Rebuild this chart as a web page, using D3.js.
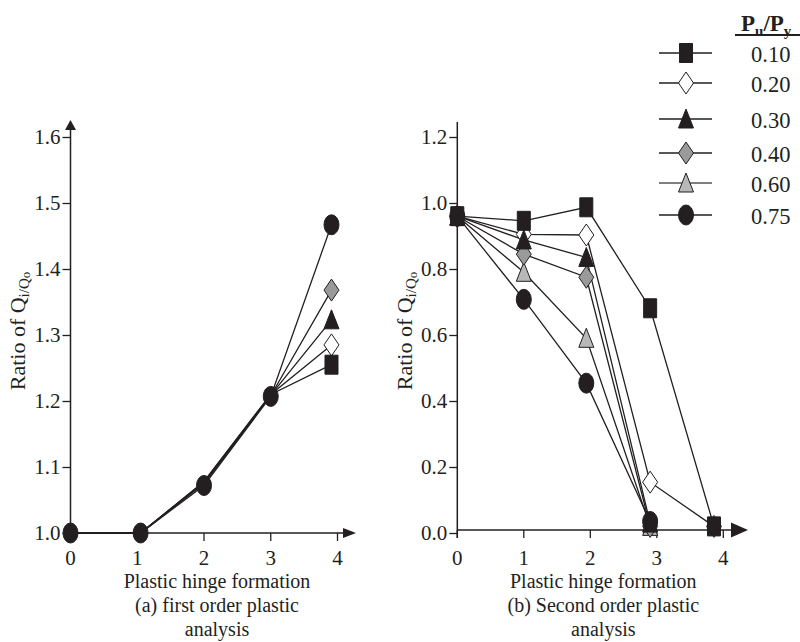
<!DOCTYPE html>
<html>
<head>
<meta charset="utf-8">
<script src="https://cdn.jsdelivr.net/npm/d3@7"></script>
<style>
  html, body { margin: 0; padding: 0; background: #fff; }
  svg { display: block; }
  text { font-family: "Liberation Serif", "Times New Roman", Times, serif; fill: #231f20; }
</style>
</head>
<body>
<svg id="chart" width="800" height="642"></svg>
<script>
// ---------- data ----------
const seriesNames = ["0.10", "0.20", "0.30", "0.40", "0.60", "0.75"];
const seriesMarkers = ["square", "diamondOpen", "triangle", "diamondGray", "triangleGray", "circle"];

// (a) first order plastic analysis
const leftX = [0, 1.05, 2, 3, 3.91];
const left010 = [1.0, 1.0, 1.078, 1.21, 1.255];
const left020 = [1.0, 1.0, 1.077, 1.21, 1.285];
const left030 = [1.0, 1.0, 1.076, 1.209, 1.323];
const left040 = [1.0, 1.0, 1.075, 1.208, 1.368];
const left075 = [1.0, 1.0, 1.072, 1.207, 1.467];
const leftTicks = [1.0, 1.1, 1.2, 1.3, 1.4, 1.5, 1.6];

// (b) second order plastic analysis
const rightX = [0, 1.0, 1.94, 2.9, 3.86];
const right010 = [0.96, 0.946, 0.987, 0.681, 0.02];
const right020 = [0.96, 0.905, 0.903, 0.154, 0.02];
const right030 = [0.96, 0.888, 0.835, 0.03, null];
const right040 = [0.96, 0.845, 0.775, 0.02, null];
const right060 = [0.96, 0.79, 0.59, 0.02, null];
const right075 = [0.96, 0.708, 0.454, 0.035, null];
const rightTicks = [0.0, 0.2, 0.4, 0.6, 0.8, 1.0, 1.2];

const xTicks = [0, 1, 2, 3, 4];

// ---------- drawing ----------
const svg = d3.select("#chart");
const INK = "#231f20";
const FONT = 21;

function markerPath(type) {
  switch (type) {
    case "square": return "M-6.5,-9.5h13v19h-13Z";
    case "diamondOpen":
    case "diamondGray": return "M0,-11L7.5,0L0,11L-7.5,0Z";
    case "triangle":
    case "triangleGray": return "M0,-10L7.5,9L-7.5,9Z";
    case "circle": return "M-7.5,0A7.5,10 0 1,0 7.5,0A7.5,10 0 1,0 -7.5,0Z";
  }
}
function markerFill(type) {
  return { square: INK, diamondOpen: "#ffffff", triangle: INK,
           diamondGray: "#9a9a9a", triangleGray: "#b8b8b8", circle: INK }[type];
}
function drawMarker(g, type, x, y) {
  g.append("path")
    .attr("d", markerPath(type))
    .attr("transform", `translate(${x},${y})`)
    .attr("fill", markerFill(type))
    .attr("stroke", INK)
    .attr("stroke-width", 1);
}

function drawPanel(opts) {
  const { xRange, yDomain, yRange, yTicks, series, order, caption, yArrow, xArrowLen, xArrowH, axisYOffset, hideUnder } = opts;
  const x = d3.scaleLinear().domain([0, 4]).range(xRange);
  const y = d3.scaleLinear().domain(yDomain).range(yRange);
  const g = svg.append("g");
  const axisY = y(yDomain[0]) - axisYOffset;

  // y axis
  const yAxis = d3.axisLeft(y).tickValues(yTicks).tickSize(8).tickPadding(2).tickFormat(d3.format(".1f"));
  const ya = g.append("g").attr("transform", `translate(${xRange[0]},0)`).call(yAxis);
  ya.attr("font-family", null);
  ya.select(".domain").remove();
  ya.selectAll(".tick line").attr("stroke", INK).attr("stroke-width", 1.3);
  ya.selectAll(".tick text").style("font-size", FONT + "px").attr("fill", INK);
  g.append("line").attr("x1", xRange[0]).attr("x2", xRange[0])
    .attr("y1", axisY + 8).attr("y2", yArrow ? yArrow.tip + 6 : opts.yTop)
    .attr("stroke", INK).attr("stroke-width", 1.5);
  if (yArrow) {
    g.append("path")
      .attr("d", `M${xRange[0]},${yArrow.tip}L${xRange[0] + 5.5},${yArrow.tip + 10}L${xRange[0] - 5.5},${yArrow.tip + 10}Z`)
      .attr("fill", INK);
  }

  // x axis
  const xEnd = opts.xTip;
  g.append("line").attr("x1", xRange[0]).attr("x2", xEnd - 4)
    .attr("y1", axisY).attr("y2", axisY).attr("stroke", INK).attr("stroke-width", 1.5);
  g.append("path")
    .attr("d", `M${xEnd},${axisY}L${xEnd - xArrowLen},${axisY - xArrowH / 2}L${xEnd - xArrowLen},${axisY + xArrowH / 2}Z`)
    .attr("fill", INK);
  xTicks.forEach(t => {
    g.append("line").attr("x1", x(t)).attr("x2", x(t)).attr("y1", axisY).attr("y2", axisY + 8)
      .attr("stroke", INK).attr("stroke-width", 1.3);
    g.append("text").attr("x", x(t)).attr("y", 565).attr("text-anchor", "middle")
      .style("font-size", FONT + "px").text(t);
  });

  // y label
  const yl = g.append("text")
    .attr("transform", `translate(${xRange[0] - 45.5},331) rotate(-90)`)
    .attr("text-anchor", "middle").style("font-size", "22px");
  yl.append("tspan").text("Ratio of Q");
  yl.append("tspan").attr("dy", 4).style("font-size", "15px").text("i/Q");
  yl.append("tspan").attr("dy", 1).style("font-size", "13px").text("o");

  // x label + caption
  const cx = (xRange[0] + xRange[1]) / 2 + 13;
  caption.forEach((line, i) => {
    g.append("text").attr("x", cx).attr("y", [588, 612, 636][i])
      .attr("text-anchor", "middle").style("font-size", "20px").text(line);
  });

  // lines
  const line = d3.line().defined(d => d[1] !== null).x(d => x(d[0])).y(d => y(d[1]));
  order.forEach(k => {
    const s = series[k];
    if (!s) return;
    g.append("path").datum(s.xs.map((v, i) => [v, s.ys[i]]))
      .attr("d", line).attr("fill", "none").attr("stroke", INK).attr("stroke-width", 1.3);
  });
  // markers (markers lying under the top series' marker are covered in the original)
  const top = hideUnder !== undefined ? series[hideUnder] : null;
  order.forEach(k => {
    const s = series[k];
    if (!s) return;
    s.xs.forEach((v, i) => {
      if (s.ys[i] === null) return;
      if (top && k !== hideUnder && Math.abs(y(s.ys[i]) - y(top.ys[i])) < 6) return;
      drawMarker(g, seriesMarkers[k], x(v), y(s.ys[i]));
    });
  });
}

drawPanel({
  xRange: [70.5, 337.5], yDomain: [1.0, 1.6], yRange: [533, 137], yTicks: leftTicks,
  series: {
    0: { xs: leftX, ys: left010 }, 1: { xs: leftX, ys: left020 }, 2: { xs: leftX, ys: left030 },
    3: { xs: leftX, ys: left040 }, 5: { xs: leftX, ys: left075 }
  },
  order: [1, 0, 2, 3, 5], hideUnder: 5,
  caption: ["Plastic hinge formation", "(a) first order plastic", "analysis"],
  yArrow: { tip: 120 }, xTip: 356, xArrowLen: 13, xArrowH: 10, axisYOffset: 0
});

drawPanel({
  xRange: [457.3, 723.3], yDomain: [0, 1.2], yRange: [533, 137], yTicks: rightTicks,
  series: {
    0: { xs: rightX, ys: right010 }, 1: { xs: rightX, ys: right020 }, 2: { xs: rightX, ys: right030 },
    3: { xs: rightX, ys: right040 }, 4: { xs: rightX, ys: right060 }, 5: { xs: rightX, ys: right075 }
  },
  order: [1, 4, 3, 5, 2, 0],
  caption: ["Plastic hinge formation", "(b) Second order plastic", "analysis"],
  yArrow: null, yTop: 122, xTip: 748, xArrowLen: 17, xArrowH: 15, axisYOffset: 3
});

// ---------- legend ----------
const legendY = [53, 83, 119, 153, 183, 215];
const lg = svg.append("g");
const head = lg.append("text").attr("x", 741).attr("y", 31)
  .style("font-size", "23px").style("font-weight", "bold");
head.append("tspan").text("P");
head.append("tspan").attr("dy", 5).style("font-size", "15px").text("u");
head.append("tspan").attr("dy", -5).text("/P");
head.append("tspan").attr("dy", 5).style("font-size", "15px").text("y");
lg.append("line").attr("x1", 735).attr("x2", 800).attr("y1", 35).attr("y2", 35)
  .attr("stroke", INK).attr("stroke-width", 2);
seriesNames.forEach((name, i) => {
  const yy = legendY[i];
  lg.append("line").attr("x1", 659).attr("x2", 712).attr("y1", yy).attr("y2", yy)
    .attr("stroke", i === 4 ? "#555" : INK).attr("stroke-width", 1.3);
  drawMarker(lg, seriesMarkers[i], 686, yy);
  lg.append("text").attr("x", 751).attr("y", yy + 8.5).style("font-size", "22.5px").text(name);
});
</script>
</body>
</html>
